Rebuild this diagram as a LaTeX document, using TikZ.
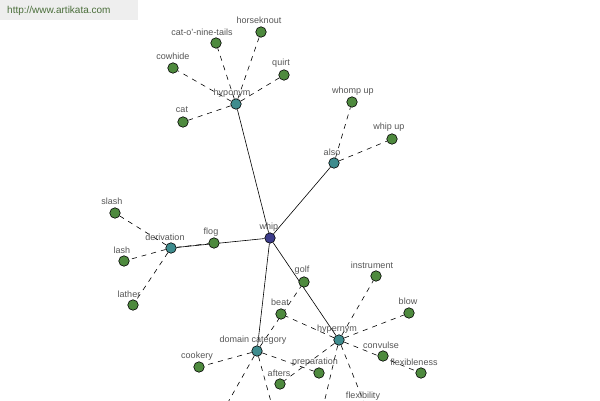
\documentclass[tikz,border=0pt]{standalone}
\usepackage{fontspec}
\setmainfont{Liberation Sans}
\usepackage{tikz}
\usetikzlibrary{backgrounds}

\definecolor{rootblue}{HTML}{3C3C8A}
\definecolor{relteal}{HTML}{3E8C8E}
\definecolor{wordgreen}{HTML}{4E8A3E}
\definecolor{lblgray}{HTML}{555555}
\definecolor{bannergray}{HTML}{EEEEEE}
\definecolor{bannertext}{HTML}{4A6E3A}

\begin{document}
\begin{tikzpicture}[x=1pt,y=-1pt]
\tikzstyle{wnode}=[circle, draw=black, line width=0.6pt, minimum size=10.5pt,
  inner sep=0pt, fill=wordgreen]
\tikzstyle{rnode}=[wnode, fill=relteal]
\tikzstyle{lbl}=[inner sep=0pt, text=lblgray, font=\fontsize{9}{10}\selectfont]
\tikzstyle{solidlink}=[line width=0.6pt, black]
\tikzstyle{dashlink}=[line width=0.6pt, black, dash pattern=on 5pt off 5pt]
\useasboundingbox (0,0) rectangle (600,400);
\clip (0,0) rectangle (600,400);
\fill[bannergray] (0,0) rectangle (138,20);
\node[anchor=west, inner sep=0pt, text=bannertext, font=\fontsize{10}{12}\selectfont]
  (site) at (7,11) {http://www.artikata.com};
% centre word and relation nodes
\node[wnode, fill=rootblue] (whip) at (270,238) {};
\node[rnode] (hypo) at (236,104) {};
\node[rnode] (also) at (334,163) {};
\node[rnode] (deriv) at (171,248) {};
\node[rnode] (domcat) at (257,351) {};
\node[rnode] (hyper) at (339,340) {};
% words
\node[wnode] (cat) at (183,122) {};
\node[wnode] (cowhide) at (173,68) {};
\node[wnode] (catonine) at (216,43) {};
\node[wnode] (horseknout) at (261,32) {};
\node[wnode] (quirt) at (284,75) {};
\node[wnode] (whomp) at (352,102) {};
\node[wnode] (whipup) at (392,139) {};
\node[wnode] (slash) at (115,213) {};
\node[wnode] (lash) at (124,261) {};
\node[wnode] (lather) at (133,305) {};
\node[wnode] (flog) at (214,243) {};
\node[wnode] (golf) at (304,282) {};
\node[wnode] (beat) at (281,314) {};
\node[wnode] (cookery) at (199,367) {};
\node[wnode] (prep) at (319,373) {};
\node[wnode] (afters) at (280,384) {};
\node[wnode] (instr) at (376,276) {};
\node[wnode] (blow) at (409,313) {};
\node[wnode] (convulse) at (383,356) {};
\node[wnode] (flexness) at (421,373) {};
\node[wnode] (flexity) at (367,410) {};
\coordinate (domleft) at (218,420);
\coordinate (domright) at (276,420);
\coordinate (hyperdown) at (320,420);
% labels
\node[lbl] (lwhip) at (269,227) {whip};
\node[lbl] (lhypo) at (232,93) {hyponym};
\node[lbl] (lalso) at (332,152) {also};
\node[lbl] (lderiv) at (165,237) {derivation};
\node[lbl] (ldomcat) at (253,340) {domain category};
\node[lbl] (lhyper) at (337,329) {hypernym};
\node[lbl] (lcat) at (182,110) {cat};
\node[lbl] (lcowhide) at (173,56) {cowhide};
\node[lbl] (lcatonine) at (202,32) {cat-o'-nine-tails};
\node[lbl] (lhorseknout) at (259,20) {horseknout};
\node[lbl] (lquirt) at (281,63) {quirt};
\node[lbl] (lwhomp) at (353,91) {whomp up};
\node[lbl] (lwhipup) at (389,127) {whip up};
\node[lbl] (lslash) at (112,201) {slash};
\node[lbl] (llash) at (122,250) {lash};
\node[lbl] (llather) at (129,294) {lather};
\node[lbl] (lflog) at (211,232) {flog};
\node[lbl] (lgolf) at (302,270) {golf};
\node[lbl] (lbeat) at (280,302) {beat};
\node[lbl] (lcookery) at (197,356) {cookery};
\node[lbl] (lprep) at (315,362) {preparation};
\node[lbl] (lafters) at (279,373) {afters};
\node[lbl] (linstr) at (372,265) {instrument};
\node[lbl] (lblow) at (408,301) {blow};
\node[lbl] (lconvulse) at (381,345) {convulse};
\node[lbl] (lflexness) at (414,362) {flexibleness};
\node[lbl] (lflexity) at (363,396) {flexibility};
\begin{scope}[on background layer]
\draw[dashlink] (deriv) -- (flog);
\draw[solidlink] (whip) -- (hypo);
\draw[solidlink] (whip) -- (also);
\draw[solidlink] (whip) -- (deriv);
\draw[solidlink] (whip) -- (domcat);
\draw[solidlink] (whip) -- (hyper);
\foreach \w in {cat,cowhide,catonine,horseknout,quirt}
  \draw[dashlink] (hypo) -- (\w);
\foreach \w in {whomp,whipup}
  \draw[dashlink] (also) -- (\w);
\foreach \w in {slash,lash,lather}
  \draw[dashlink] (deriv) -- (\w);
\foreach \w in {cookery,golf,prep,domleft,domright}
  \draw[dashlink] (domcat) -- (\w);
\foreach \w in {beat,afters,instr,blow,flexness,flexity,hyperdown}
  \draw[dashlink] (hyper) -- (\w);
\end{scope}
\end{tikzpicture}
\end{document}
